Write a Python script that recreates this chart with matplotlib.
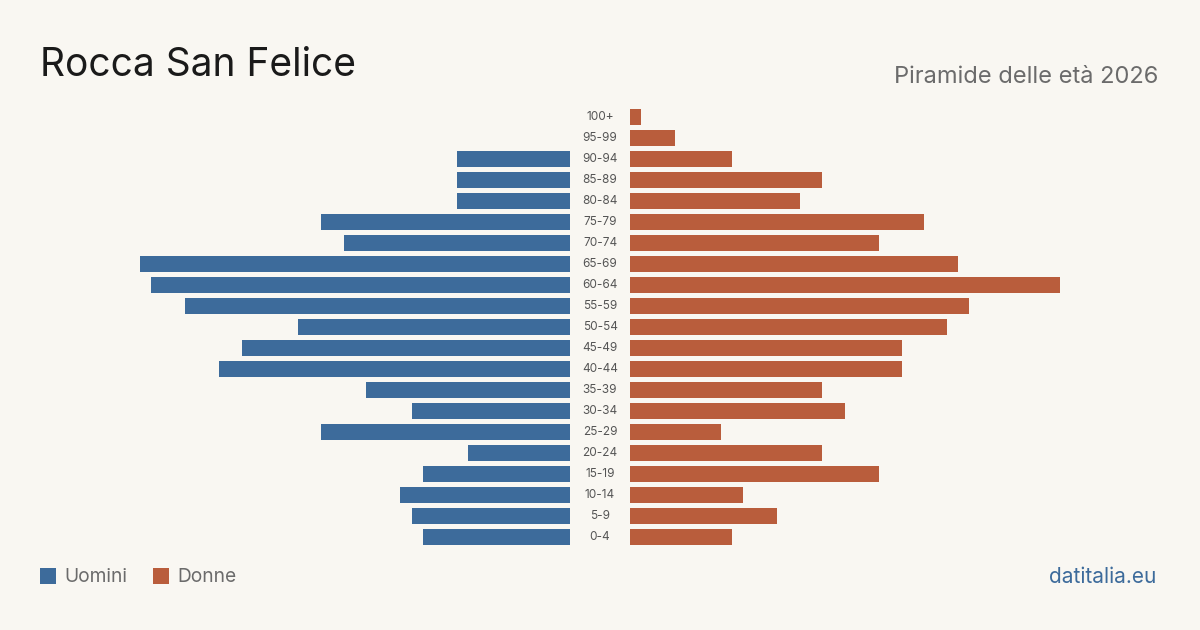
import matplotlib
matplotlib.use("Agg")
import matplotlib.pyplot as plt
from matplotlib.patches import Rectangle

plt.rcParams['font.family'] = ['Inter', 'DejaVu Sans']

age_groups = ["100+", "95-99", "90-94", "85-89", "80-84", "75-79", "70-74", "65-69",
              "60-64", "55-59", "50-54", "45-49", "40-44", "35-39", "30-34", "25-29",
              "20-24", "15-19", "10-14", "5-9", "0-4"]
men = [0, 0, 10, 10, 10, 22, 20, 38, 37, 34, 24, 29, 31, 18, 14, 22, 9, 13, 15, 14, 13]
women = [1, 4, 9, 17, 15, 26, 22, 29, 38, 30, 28, 24, 24, 17, 19, 8, 17, 22, 10, 13, 9]

title = "Rocca San Felice"
subtitle = "Piramide delle età 2026"
legend_labels = ["Uomini", "Donne"]
source = "datitalia.eu"

BG = "#f9f7f2"
BLUE = "#3d6b9b"
ORANGE = "#b95d3c"

W, H = 1200, 630
fig = plt.figure(figsize=(12, 6.3), dpi=100, facecolor=BG)

def ax_rect(x0, x1, y0, y1):
    return [x0 / W, 1 - y1 / H, (x1 - x0) / W, (y1 - y0) / H]

n = len(age_groups)
top, bottom = 106.5, 547.5
xmax = 38
ypos = list(range(n))

axl = fig.add_axes(ax_rect(140, 570, top, bottom))
axr = fig.add_axes(ax_rect(630, 1060, top, bottom))
for ax in (axl, axr):
    ax.set_facecolor("none")
    ax.set_ylim(n - 0.5, -0.5)
    ax.axis("off")
axl.set_xlim(xmax, 0)
axr.set_xlim(0, xmax)

axl.barh(ypos, men, height=0.8, color=BLUE)
axr.barh(ypos, women, height=0.8, color=ORANGE)

# age labels in the gap
axm = fig.add_axes(ax_rect(570, 630, top, bottom))
axm.set_facecolor("none")
axm.set_ylim(n - 0.5, -0.5)
axm.set_xlim(0, 1)
axm.axis("off")
for i, lab in enumerate(age_groups):
    axm.text(0.5, i, lab, ha="center", va="center", fontsize=8.5, color="#555555")

fig.text(40 / W, 1 - 66 / H, title, fontsize=28, color="#1a1a1a", ha="left", va="center")
fig.text(1158 / W, 1 - 77 / H, subtitle, fontsize=17, color="#6b6b6b", ha="right", va="center")

# legend
fig.patches.append(Rectangle((40 / W, 1 - 584 / H), 16 / W, 16 / H, transform=fig.transFigure,
                             facecolor=BLUE, edgecolor="none"))
fig.text(64 / W, 1 - 577 / H, legend_labels[0], fontsize=13.8, color="#6b6b6b", ha="left", va="center")
fig.patches.append(Rectangle((153 / W, 1 - 584 / H), 16 / W, 16 / H, transform=fig.transFigure,
                             facecolor=ORANGE, edgecolor="none"))
fig.text(177 / W, 1 - 577 / H, legend_labels[1], fontsize=13.8, color="#6b6b6b", ha="left", va="center")

fig.text(1156 / W, 1 - 577 / H, source, fontsize=15, color=BLUE, ha="right", va="center")

fig.savefig("out.png", dpi=100, facecolor=BG)
